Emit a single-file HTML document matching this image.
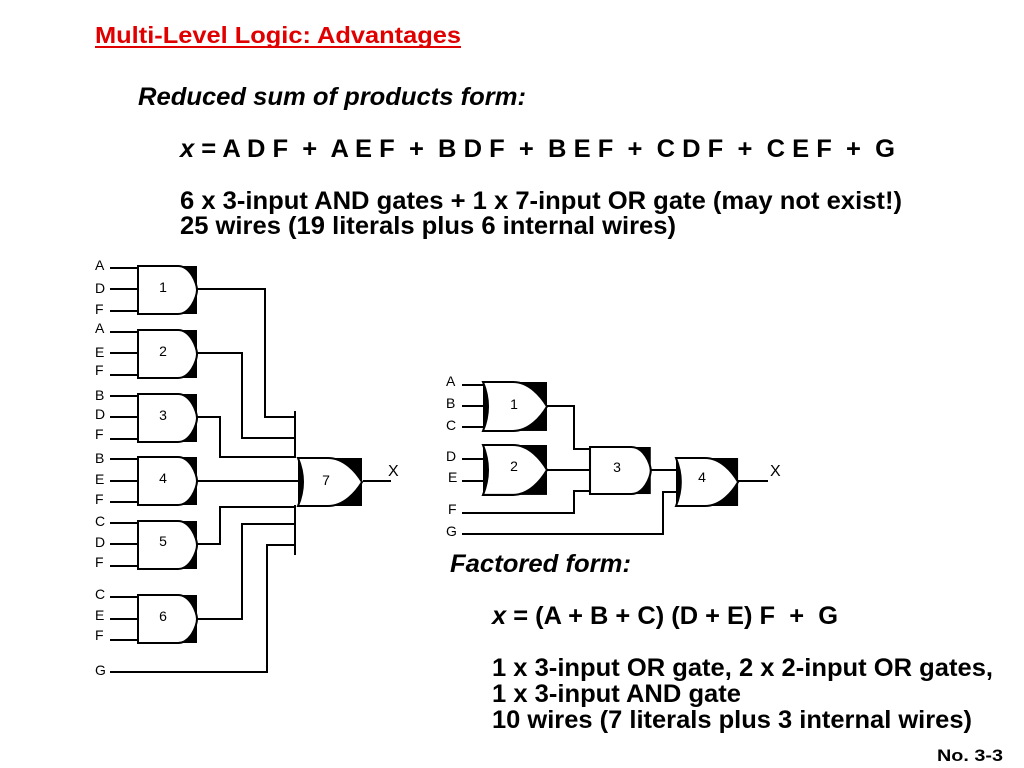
<!DOCTYPE html>
<html><head><meta charset="utf-8"><style>
html,body{margin:0;padding:0;background:#fff;}
svg{display:block;}
text{font-family:"Liberation Sans",Arial,sans-serif;white-space:pre;}
.b{font-weight:bold;}
</style></head><body>
<svg width="1024" height="768" viewBox="0 0 1024 768" xmlns="http://www.w3.org/2000/svg" xml:space="preserve">
<defs>
<g id="and">
<rect x="40" y="0" width="19" height="48" fill="#000"/>
<path d="M0 0 H40 C52 0 59 17 59 24 C59 31 52 48 40 48 H0 Z" fill="#fff" stroke="#000" stroke-width="2"/>
</g>
<g id="or">
<rect x="36" y="0" width="28" height="48" fill="#000"/>
<rect x="0" y="0" width="8" height="48" fill="#000"/>
<path d="M0 0 H30 C46 0 58 14 64 24 C58 34 46 48 30 48 H0 Q10 24 0 0 Z" fill="#fff" stroke="#000" stroke-width="2"/>
</g>
</defs>

<text x="95" y="43" font-size="23" fill="#e00000" class="b" textLength="366" lengthAdjust="spacingAndGlyphs">Multi-Level Logic: Advantages</text>
<line x1="95" y1="47" x2="461" y2="47" stroke="#e00000" stroke-width="2"/>
<text x="138" y="105" font-size="25" class="b" font-style="italic" textLength="388" lengthAdjust="spacingAndGlyphs">Reduced sum of products form:</text>
<text x="180" y="157" font-size="25" class="b" textLength="715" lengthAdjust="spacingAndGlyphs"><tspan font-style="italic">x</tspan> = A D F  +  A E F  +  B D F  +  B E F  +  C D F  +  C E F  +  G</text>
<text x="180" y="209" font-size="25" class="b" textLength="722" lengthAdjust="spacingAndGlyphs">6 x 3-input AND gates + 1 x 7-input OR gate (may not exist!)</text>
<text x="180" y="234" font-size="25" class="b" textLength="496" lengthAdjust="spacingAndGlyphs">25 wires (19 literals plus 6 internal wires)</text>

<text x="450" y="572" font-size="25" class="b" font-style="italic" textLength="181" lengthAdjust="spacingAndGlyphs">Factored form:</text>
<text x="492" y="624" font-size="25" class="b" textLength="346" lengthAdjust="spacingAndGlyphs"><tspan font-style="italic">x</tspan> = (A + B + C) (D + E) F  +  G</text>
<text x="492" y="676" font-size="25" class="b" textLength="501" lengthAdjust="spacingAndGlyphs">1 x 3-input OR gate, 2 x 2-input OR gates,</text>
<text x="492" y="702" font-size="25" class="b" textLength="249" lengthAdjust="spacingAndGlyphs">1 x 3-input AND gate</text>
<text x="492" y="728" font-size="25" class="b" textLength="480" lengthAdjust="spacingAndGlyphs">10 wires (7 literals plus 3 internal wires)</text>
<text x="937" y="761" font-size="17" class="b" textLength="66" lengthAdjust="spacingAndGlyphs">No. 3-3</text>

<!-- Left circuit -->
<g stroke="#000" stroke-width="2" fill="none">
<path d="M110 268H138M110 289H138M110 311H138"/>
<path d="M110 332H138M110 353H138M110 375H138"/>
<path d="M110 396H138M110 417H138M110 439H138"/>
<path d="M110 459H138M110 481H138M110 502H138"/>
<path d="M110 523H138M110 544H138M110 566H138"/>
<path d="M110 597H138M110 619H138M110 640H138"/>
<path d="M110 672H267V545H295"/>
<polyline points="197,289 265,289 265,417 295,417"/>
<polyline points="197,353 242,353 242,438 295,438"/>
<polyline points="197,417 220,417 220,457 295,457"/>
<polyline points="197,481 300,481"/>
<polyline points="197,544 220,544 220,507 295,507"/>
<polyline points="197,619 242,619 242,524 295,524"/>
<path d="M295 411V458M295 505V555"/>
<path d="M363 481H391"/>
</g>
<use href="#and" x="138" y="266"/>
<use href="#and" x="138" y="330"/>
<use href="#and" x="138" y="394"/>
<use href="#and" x="138" y="457"/>
<use href="#and" x="138" y="521"/>
<use href="#and" x="138" y="595"/>
<use href="#or" x="298" y="458"/>
<g font-size="14" text-anchor="middle">
<text x="163" y="292">1</text><text x="163" y="356">2</text><text x="163" y="420">3</text>
<text x="163" y="483">4</text><text x="163" y="546">5</text><text x="163" y="621">6</text>
<text x="326" y="485">7</text>
</g>
<g font-size="14">
<text x="95" y="270">A</text><text x="95" y="293">D</text><text x="95" y="314">F</text>
<text x="95" y="333">A</text><text x="95" y="357">E</text><text x="95" y="375">F</text>
<text x="95" y="400">B</text><text x="95" y="419">D</text><text x="95" y="439">F</text>
<text x="95" y="463">B</text><text x="95" y="484">E</text><text x="95" y="504">F</text>
<text x="95" y="526">C</text><text x="95" y="547">D</text><text x="95" y="567">F</text>
<text x="95" y="599">C</text><text x="95" y="620">E</text><text x="95" y="640">F</text>
<text x="95" y="675">G</text>
<text x="388" y="476" font-size="16">X</text>
</g>

<!-- Right circuit -->
<g stroke="#000" stroke-width="2" fill="none">
<path d="M462 385H485M462 406H486M462 427H485"/>
<path d="M462 459H486M462 481H485"/>
<polyline points="547,406 574,406 574,449 590,449"/>
<polyline points="547,470 590,470"/>
<polyline points="651,470 678,470"/>
<polyline points="462,513 574,513 574,491 590,491"/>
<polyline points="462,534 663,534 663,492 678,492"/>
<path d="M738 481H768"/>
</g>
<use href="#or" transform="translate(483,382) scale(1,1.02)"/>
<use href="#or" transform="translate(483,445) scale(1,1.04)"/>
<use href="#and" transform="translate(590,447) scale(1.03,0.98)"/>
<use href="#or" transform="translate(676,458) scale(0.97,1)"/>
<g font-size="14" text-anchor="middle">
<text x="514" y="409">1</text><text x="514" y="471">2</text>
<text x="617" y="472">3</text><text x="702" y="482">4</text>
</g>
<g font-size="14">
<text x="446" y="386">A</text><text x="446" y="408">B</text><text x="446" y="430">C</text>
<text x="446" y="461">D</text><text x="448" y="482">E</text>
<text x="448" y="514">F</text><text x="446" y="536">G</text>
<text x="770" y="476" font-size="16">X</text>
</g>
</svg>
</body></html>
